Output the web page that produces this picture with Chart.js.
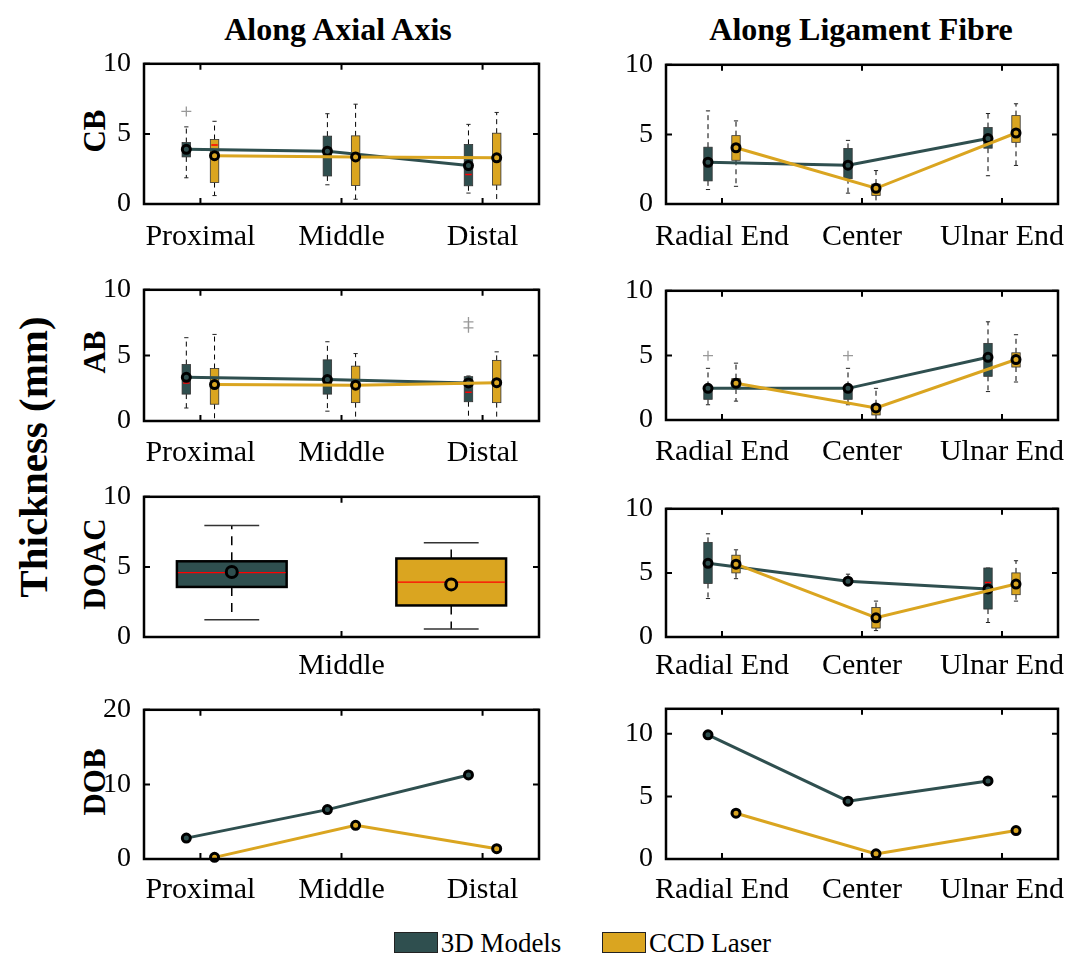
<!DOCTYPE html>
<html>
<head>
<meta charset="utf-8">
<script src="https://cdn.jsdelivr.net/npm/chart.js@4.4.1/dist/chart.umd.min.js"></script>
<style>
  body { margin: 0; background: #fff; }
  #fig { position: relative; width: 1067px; height: 955px; overflow: hidden; background: #fff;
         font-family: 'Liberation Serif', 'Times New Roman', serif; color: #000; }
  canvas { position: absolute; }
  .txt { position: absolute; transform: translate(-50%, -50%); white-space: nowrap; }
  .bold { font-weight: bold; }
  .rot { transform: translate(-50%, -50%) rotate(-90deg); }
  .key { position: absolute; width: 44px; height: 21px; border: 1px solid #222; box-sizing: border-box; }
</style>
</head>
<body>
<div id="fig">
  <div class="txt bold" style="left:338px;top:29px;font-size:32px">Along Axial Axis</div>
  <div class="txt bold" style="left:861px;top:29px;font-size:32px">Along Ligament Fibre</div>
  <div class="txt bold rot" style="left:33px;top:457px;font-size:41px">Thickness (mm)</div>
  <div class="txt bold rot" style="left:95px;top:131px;font-size:31px">CB</div>
  <div class="txt bold rot" style="left:95px;top:352px;font-size:31px">AB</div>
  <div class="txt bold rot" style="left:95px;top:564px;font-size:31px">DOAC</div>
  <div class="txt bold rot" style="left:95px;top:782px;font-size:31px">DOB</div>

  <div class="key" style="left:394px;top:932px;background:#2F4F4F"></div>
  <div class="txt" style="left:501px;top:943px;font-size:27px">3D Models</div>
  <div class="key" style="left:602px;top:932px;background:#DAA520"></div>
  <div class="txt" style="left:710px;top:943px;font-size:27px">CCD Laser</div>

  <canvas id="cbAxial"></canvas>
  <canvas id="cbFibre"></canvas>
  <canvas id="abAxial"></canvas>
  <canvas id="abFibre"></canvas>
  <canvas id="doacAxial"></canvas>
  <canvas id="doacFibre"></canvas>
  <canvas id="dobAxial"></canvas>
  <canvas id="dobFibre"></canvas>
</div>
<script>
const C3D = '#2F4F4F';
const CCCD = '#DAA520';

const axialCats = ['Proximal', 'Middle', 'Distal'];
const fibreCats = ['Radial End', 'Center', 'Ulnar End'];
const doacAxialCats = ['Middle'];
const ticks10 = [0, 5, 10];
const ticks20 = [0, 10, 20];

// box stats: [lower whisker, Q1, median, Q3, upper whisker]
const cbAxial3D = [[1.87, 3.36, 3.95, 4.38, 5.5], [1.37, 2.0, 3.8, 4.84, 6.44], [0.78, 1.3, 2.1, 4.25, 5.68]];
const cbAxial3DMean = [3.9, 3.77, 2.74];
const cbAxial3DOut = [[6.6], [], []];
const cbAxialCCD = [[0.6, 1.53, 4.2, 4.6, 5.9], [0.34, 1.32, 3.4, 4.86, 7.12], [0.0, 1.35, 3.3, 5.05, 6.53]];
const cbAxialCCDMean = [3.45, 3.36, 3.29];

const cbFibre3D = [[1.04, 1.66, 3.0, 4.08, 6.69], [0.78, 1.82, 2.8, 3.99, 4.57], [2.03, 4.01, 4.7, 5.49, 6.5]];
const cbFibre3DMean = [3.0, 2.79, 4.7];
const cbFibreCCD = [[1.27, 3.14, 4.0, 4.91, 5.97], [0.0, 0.62, 1.1, 1.43, 2.4], [2.77, 4.43, 5.1, 6.35, 7.2]];
const cbFibreCCDMean = [4.04, 1.13, 5.1];

const abAxial3D = [[0.99, 2.05, 2.9, 4.3, 6.35], [0.75, 2.05, 3.2, 4.66, 6.04], [0.0, 1.47, 2.2, 3.38, 3.43]];
const abAxial3DMean = [3.33, 3.16, 2.9];
const abAxial3DOut = [[], [], [7.55, 7.1]];
const abAxialCCD = [[0.0, 1.28, 2.8, 4.0, 6.6], [0.05, 1.4, 2.7, 4.18, 5.14], [0.0, 1.4, 2.9, 4.62, 5.27]];
const abAxialCCDMean = [2.78, 2.73, 2.92];

const abFibre3D = [[1.18, 1.6, 2.45, 2.6, 4.0], [1.18, 1.6, 2.45, 2.6, 4.0], [2.2, 3.38, 4.85, 5.93, 7.6]];
const abFibre3DMean = [2.45, 2.45, 4.85];
const abFibre3DOut = [[4.98], [4.98], []];
const abFibreCCD = [[1.46, 2.4, 2.84, 3.2, 4.4], [0.0, 0.39, 0.9, 1.18, 2.45], [2.94, 4.1, 4.6, 5.2, 6.6]];
const abFibreCCDMean = [2.84, 0.93, 4.68];

const doacAxial3D = [[1.23, 3.57, 4.59, 5.4, 7.96]];
const doacAxial3DMean = [4.64];
const doacAxialCCD = [[0.57, 2.25, 3.91, 5.6, 6.73]];
const doacAxialCCDMean = [3.75];

const doacFibre3D = [[3.0, 4.18, 5.75, 7.38, 8.05], [4.1, 4.2, 4.35, 4.5, 4.9], [1.13, 2.18, 4.25, 5.38, 5.38]];
const doacFibre3DMean = [5.75, 4.35, 3.75];
const doacFibreCCD = [[4.55, 5.0, 5.6, 6.38, 6.8], [0.5, 0.7, 1.5, 2.3, 2.8], [2.8, 3.3, 4.1, 5.0, 5.95]];
const doacFibreCCDMean = [5.68, 1.5, 4.13];

const dobAxial3DMean = [2.8, 6.62, 11.27];
const dobAxialCCDMean = [0.22, 4.52, 1.38];
const dobFibre3DMean = [9.92, 4.62, 6.24];
const dobFibreCCDMean = [3.66, 0.41, 2.27];

const FONT = "'Liberation Serif', 'Times New Roman', serif";
const PAD_L = 70, PAD_T = 16, PAD_R = 16, PAD_B = 46;

const panels = [
  { id: 'cbAxial', x: 144, y: 58, w: 395, h: 146, cats: axialCats, ymax: 10, yticks: ticks10, xpad: 7,
    series: [{ stats: cbAxial3D, mean: cbAxial3DMean, out: cbAxial3DOut, color: C3D, off: -0.1 },
             { stats: cbAxialCCD, mean: cbAxialCCDMean, color: CCCD, off: 0.1 }] },
  { id: 'cbFibre', x: 666, y: 59, w: 392, h: 145, cats: fibreCats, ymax: 10, yticks: ticks10, xpad: 7,
    series: [{ stats: cbFibre3D, mean: cbFibre3DMean, color: C3D, off: -0.1 },
             { stats: cbFibreCCD, mean: cbFibreCCDMean, color: CCCD, off: 0.1 }] },
  { id: 'abAxial', x: 144, y: 284, w: 395, h: 137, cats: axialCats, ymax: 10, yticks: ticks10, xpad: 6,
    series: [{ stats: abAxial3D, mean: abAxial3DMean, out: abAxial3DOut, color: C3D, off: -0.1 },
             { stats: abAxialCCD, mean: abAxialCCDMean, color: CCCD, off: 0.1 }] },
  { id: 'abFibre', x: 666, y: 285, w: 392, h: 135, cats: fibreCats, ymax: 10, yticks: ticks10, xpad: 6,
    series: [{ stats: abFibre3D, mean: abFibre3DMean, out: abFibre3DOut, color: C3D, off: -0.1 },
             { stats: abFibreCCD, mean: abFibreCCDMean, color: CCCD, off: 0.1 }] },
  { id: 'doacAxial', x: 144, y: 491, w: 395, h: 146, cats: doacAxialCats, catPos: [1.5], xmax: 2.4,
    ymax: 10, yticks: ticks10, big: true, noLine: true, boxW: 0.5, xpad: 3,
    series: [{ stats: doacAxial3D, mean: doacAxial3DMean, color: C3D, off: -0.5 },
             { stats: doacAxialCCD, mean: doacAxialCCDMean, color: CCCD, off: 0.5 }] },
  { id: 'doacFibre', x: 666, y: 503, w: 392, h: 134, cats: fibreCats, ymax: 10, yticks: ticks10, xpad: 3,
    series: [{ stats: doacFibre3D, mean: doacFibre3DMean, color: C3D, off: -0.1 },
             { stats: doacFibreCCD, mean: doacFibreCCDMean, color: CCCD, off: 0.1 }] },
  { id: 'dobAxial', x: 144, y: 704, w: 395, h: 155, cats: axialCats, ymax: 20, yticks: ticks20, xpad: 5,
    series: [{ mean: dobAxial3DMean, color: C3D, off: -0.1 },
             { mean: dobAxialCCDMean, color: CCCD, off: 0.1 }] },
  { id: 'dobFibre', x: 666, y: 703, w: 392, h: 156, cats: fibreCats, ymax: 12, yticks: ticks10, xpad: 5,
    series: [{ mean: dobFibre3DMean, color: C3D, off: -0.1 },
             { mean: dobFibreCCDMean, color: CCCD, off: 0.1 }] }
];

const panelById = {};

// boxplots drawn under the mean lines
const boxPlugin = {
  id: 'boxes',
  beforeDatasetsDraw(chart) {
    const p = panelById[chart.canvas.id];
    const xs = chart.scales.x, ys = chart.scales.y, ctx = chart.ctx, a = chart.chartArea;
    const pos = p.catPos || [1, 2, 3];
    const bw = p.boxW || 0.06;
    ctx.save();
    ctx.beginPath();
    ctx.rect(a.left, a.top, a.right - a.left, a.bottom - a.top);
    ctx.clip();
    p.series.forEach(s => {
      if (!s.stats) return;
      s.stats.forEach((st, i) => {
        const [lo, q1, med, q3, hi] = st;
        const c = pos[i] + s.off;
        const xc = xs.getPixelForValue(c);
        const xl = xs.getPixelForValue(c - bw / 2), xr = xs.getPixelForValue(c + bw / 2);
        const cl = xs.getPixelForValue(c - bw / 4), cr = xs.getPixelForValue(c + bw / 4);
        const yLo = ys.getPixelForValue(lo), yQ1 = ys.getPixelForValue(q1);
        const yMed = ys.getPixelForValue(med), yQ3 = ys.getPixelForValue(q3), yHi = ys.getPixelForValue(hi);
        // whiskers
        ctx.strokeStyle = '#000';
        ctx.lineWidth = p.big ? 1.5 : 1;
        ctx.setLineDash(p.big ? [9, 7] : [5, 4]);
        ctx.beginPath();
        ctx.moveTo(xc, yQ3); ctx.lineTo(xc, yHi);
        ctx.moveTo(xc, yQ1); ctx.lineTo(xc, yLo);
        ctx.stroke();
        ctx.setLineDash([]);
        ctx.strokeStyle = p.big ? '#333' : '#222';
        ctx.beginPath();
        ctx.moveTo(cl, yHi); ctx.lineTo(cr, yHi);
        ctx.moveTo(cl, yLo); ctx.lineTo(cr, yLo);
        ctx.stroke();
        // box
        ctx.fillStyle = s.color;
        ctx.fillRect(xl, yQ3, xr - xl, yQ1 - yQ3);
        ctx.strokeStyle = p.big ? '#000' : '#333';
        ctx.lineWidth = p.big ? 2.5 : 0.8;
        ctx.strokeRect(xl, yQ3, xr - xl, yQ1 - yQ3);
        // median
        ctx.strokeStyle = '#ff0000';
        ctx.lineWidth = p.big ? 1.2 : 1.5;
        ctx.beginPath();
        ctx.moveTo(xl + 1, yMed); ctx.lineTo(xr - 1, yMed);
        ctx.stroke();
      });
    });
    ctx.restore();
  }
};

// axes frame with inward ticks on all four sides
const framePlugin = {
  id: 'frame',
  afterDraw(chart) {
    const xs = chart.scales.x, ys = chart.scales.y, ctx = chart.ctx, a = chart.chartArea;
    const tl = 6;
    ctx.save();
    ctx.strokeStyle = '#000';
    ctx.lineWidth = 2;
    ctx.beginPath();
    xs.ticks.forEach(t => {
      const x = xs.getPixelForValue(t.value);
      ctx.moveTo(x, a.bottom); ctx.lineTo(x, a.bottom - tl);
      ctx.moveTo(x, a.top); ctx.lineTo(x, a.top + tl);
    });
    ys.ticks.forEach(t => {
      const y = ys.getPixelForValue(t.value);
      ctx.moveTo(a.left, y); ctx.lineTo(a.left + tl, y);
      ctx.moveTo(a.right, y); ctx.lineTo(a.right - tl, y);
    });
    ctx.stroke();
    ctx.lineWidth = 2.5;
    ctx.strokeRect(a.left, a.top, a.right - a.left, a.bottom - a.top);
    ctx.restore();
  }
};

function buildPanel(p) {
  panelById[p.id] = p;
  const cv = document.getElementById(p.id);
  cv.width = p.w + PAD_L + PAD_R;
  cv.height = p.h + PAD_T + PAD_B;
  cv.style.left = (p.x - PAD_L) + 'px';
  cv.style.top = (p.y - PAD_T) + 'px';
  const pos = p.catPos || [1, 2, 3];

  const datasets = [];
  p.series.forEach(s => {
    if (s.out) {
      const pts = [];
      s.out.forEach((arr, i) => arr.forEach(v => pts.push({ x: pos[i] + s.off, y: v })));
      datasets.push({
        data: pts, showLine: false, pointStyle: 'cross', pointRadius: 5,
        borderColor: '#999', pointBorderColor: '#999', pointBorderWidth: 1.3, clip: false
      });
    }
  });
  p.series.slice().reverse().forEach(s => {
    datasets.push({
      data: s.mean.map((m, i) => ({ x: pos[i] + s.off, y: m })),
      showLine: !p.noLine,
      borderColor: s.color,
      borderWidth: 3,
      pointRadius: p.big ? 5.5 : 4,
      pointBorderWidth: 3,
      pointBorderColor: '#000',
      pointBackgroundColor: s.color,
      tension: 0,
      clip: false
    });
  });

  new Chart(cv, {
    type: 'line',
    data: { datasets },
    options: {
      responsive: false,
      animation: false,
      events: [],
      layout: { padding: { top: PAD_T, right: PAD_R, left: 0, bottom: 0 } },
      plugins: { legend: { display: false }, tooltip: { enabled: false } },
      scales: {
        x: {
          type: 'linear',
          min: 0.6,
          max: p.xmax || 3.4,
          grid: { display: false },
          border: { display: false },
          afterBuildTicks: sc => { sc.ticks = pos.map(v => ({ value: v })); },
          afterFit: sc => { sc.height = PAD_B; },
          ticks: {
            autoSkip: false, maxRotation: 0, padding: p.xpad, color: '#000',
            font: { family: FONT, size: 30 },
            callback: v => p.cats[pos.indexOf(v)]
          }
        },
        y: {
          min: 0,
          max: p.ymax,
          grid: { display: false },
          border: { display: false },
          afterBuildTicks: sc => { sc.ticks = p.yticks.map(v => ({ value: v })); },
          afterFit: sc => { sc.width = PAD_L; },
          ticks: { padding: 5, color: '#000', font: { family: FONT, size: 28 } }
        }
      }
    },
    plugins: [boxPlugin, framePlugin]
  });
}

panels.forEach(buildPanel);
</script>
</body>
</html>
